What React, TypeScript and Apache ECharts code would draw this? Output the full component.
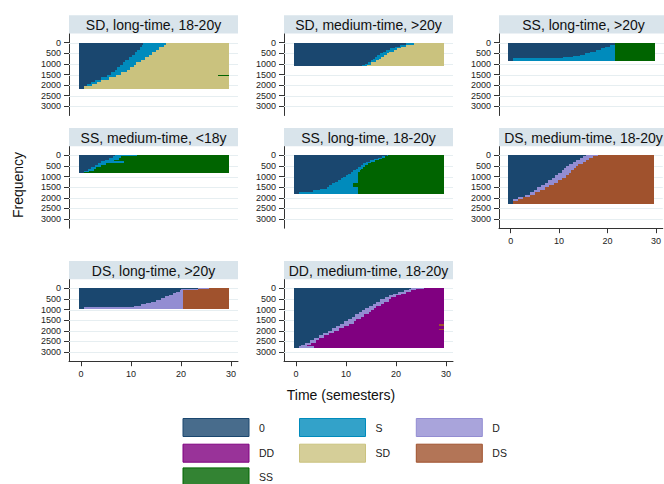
import React, { useEffect, useRef } from 'react';
import * as echarts from 'echarts';

const FONT = '"Liberation Sans", Arial, Helvetica, sans-serif';

// ---------------- data ----------------
const stateNames = ['0', 'S', 'D', 'DD', 'SD', 'DS', 'SS'];
const stateColors = ['#1a476f', '#008bbc', '#938dd2', '#800080', '#cac27e', '#a0522d', '#006400'];

const yTicks = [0, 500, 1000, 1500, 2000, 2500, 3000];
const xTicks = [0, 10, 20, 30];
const firstPeriod = 0;
const lastPeriod = 29;

const panelTitles = [
  'SD, long-time, 18-20y',
  'SD, medium-time, >20y',
  'SS, long-time, >20y',
  'SS, medium-time, <18y',
  'SS, long-time, 18-20y',
  'DS, medium-time, 18-20y',
  'DS, long-time, >20y',
  'DD, medium-time, 18-20y',
];
const panelMidState = ['S', 'S', 'S', 'S', 'S', 'D', 'D', 'D'];
const panelFinalState = ['SD', 'SD', 'SS', 'SS', 'SS', 'DS', 'DS', 'DD'];
const panelTotals = [2160, 1100, 850, 845, 1820, 2290, 980, 2820];

// rows: [frequency where block starts, semester where state 0 ends, semester where middle state ends]
const sdLongAdultRows = [
  [0, 12.4, 25.2], [40, 12.4, 17], [120, 12.2, 16.5], [220, 11.8, 15.5], [330, 11.2, 15],
  [440, 10.8, 14.2], [560, 10.2, 13.5], [680, 9.6, 12.8], [800, 8.8, 12], [920, 8.4, 11],
  [1040, 7.8, 10.5], [1160, 7.2, 9.8], [1280, 6.8, 9.2], [1400, 6, 8], [1520, 5.2, 7],
  [1640, 4, 5.5], [1740, 2.8, 4], [1840, 2, 3.2], [1930, 1.2, 2.2], [2040, 0.5, 0.5],
];
const sdMediumOldRows = [
  [0, 23.2, 25.2], [40, 22, 23.5], [110, 20.8, 22], [190, 19.8, 21], [270, 18.8, 20.2],
  [350, 18, 19.5], [430, 17.3, 18.5], [510, 16.8, 18.2], [590, 16.2, 17.5], [670, 15.7, 17],
  [750, 15.3, 16.5], [830, 14.9, 16], [910, 14.3, 15], [990, 13.8, 15], [1050, 13.2, 14.2],
];
const ssLongOldRows = [
  [0, 25.5, 26.5], [35, 21.3, 21.3], [110, 20.3, 21.3], [190, 19.3, 21.3], [270, 18.5, 21.3],
  [350, 17.5, 21.3], [430, 16.3, 21.3], [510, 15.2, 21.3], [580, 14.2, 21.3], [640, 12.8, 21.3],
  [690, 10.8, 21.3], [740, 0.5, 21.3],
];
const ssMediumYoungRows = [
  [0, 6.8, 11.2], [40, 6.3, 8], [120, 5.5, 7.5], [200, 4.8, 6.5], [290, 4, 8.5],
  [360, 3.4, 5], [450, 2.8, 4], [540, 2, 3], [630, 1.3, 2.5], [720, 0.5, 1.5], [790, 0.5, 0.5],
];
const ssLongAdultRows = [
  [0, 18.1, 18.4], [50, 17.2, 17.8], [110, 16.4, 17.2], [170, 15.6, 16.5], [230, 14.8, 15.8],
  [300, 14, 15], [380, 13.4, 14.4], [460, 12.9, 13.8], [540, 12.4, 13.4], [620, 11.9, 13],
  [700, 11.4, 12.8], [780, 10.9, 12.4], [860, 10.4, 12.4], [940, 9.9, 12.4], [1010, 9.4, 12.4],
  [1090, 8.9, 12.4], [1170, 8.4, 12.4], [1250, 7.7, 12.4], [1320, 7.1, 11.4], [1400, 6.6, 11.4],
  [1480, 6.1, 12.4], [1590, 4.8, 12.4], [1650, 3.4, 12.4], [1715, 0.5, 12.4],
];
const dsMediumAdultRows = [
  [0, 15.5, 18], [40, 15, 17], [110, 14.4, 16.2], [200, 13.5, 15.5], [300, 12.8, 15],
  [400, 12, 14], [500, 11.5, 13.5], [600, 11, 13], [700, 10.5, 12.5], [820, 9.8, 12],
  [940, 9.2, 11.5], [1060, 8.5, 10.5], [1170, 7.8, 9.8], [1280, 7, 9], [1390, 6.2, 8],
  [1500, 5.5, 7], [1620, 4.8, 6], [1740, 4, 5], [1850, 3, 4], [1950, 1.5, 2.5],
  [2060, 0.5, 1.5], [2150, 0.5, 0.5],
];
const dsLongOldRows = [
  [0, 23.3, 25.5], [25, 20, 23.3], [70, 19.8, 20.4], [150, 19, 20.4], [220, 18.3, 20.4],
  [300, 17.5, 20.4], [380, 16.8, 20.4], [460, 16, 20.4], [540, 15, 20.4], [620, 14, 20.4],
  [690, 13, 20.4], [760, 12, 20.4], [820, 10.5, 20.4], [870, 0.5, 20.4],
];
const ddMediumAdultRows = [
  [0, 23, 25.5], [40, 22.5, 24], [100, 21.5, 23], [170, 20.3, 22], [250, 19.3, 21],
  [330, 18.5, 20], [420, 17.7, 19], [520, 16.8, 18.5], [620, 16, 17.5], [720, 15.3, 17],
  [820, 14.5, 16], [920, 13.8, 15.5], [1020, 13.2, 15], [1120, 12.5, 14.5], [1230, 11.8, 13.5],
  [1340, 11.2, 13], [1450, 10.3, 12], [1560, 9.5, 11.5], [1670, 8.7, 10.5], [1780, 8, 9.5],
  [1890, 7.2, 8.5], [2000, 6.3, 7.5], [2110, 5.4, 6.5], [2220, 4.5, 5.5], [2330, 3.6, 4.5],
  [2440, 2.8, 4], [2550, 1.8, 3], [2650, 1, 2.2], [2720, 0.5, 3.5],
];

const panelRows = [
  sdLongAdultRows, sdMediumOldRows, ssLongOldRows, ssMediumYoungRows,
  ssLongAdultRows, dsMediumAdultRows, dsLongOldRows, ddMediumAdultRows,
];

// [panel, freq from, freq to, semester from, semester to, state]
const extraSpells: [number, number, number, number, number, string][] = [
  [0, 1520, 1580, 27.3, 29.5, 'SS'],
  [7, 1690, 1750, 28.5, 29.5, 'DS'],
  [7, 1900, 1960, 28.5, 29.5, 'DS'],
];

const legendGroups = [['0', 'DD'], ['S', 'SD'], ['D', 'DS'], ['SS']];

// ---------------- layout ----------------
const colLeft = [69, 284, 499];
const rowTop = [33.5, 146.2, 279.2];
const gridW = 169;
const gridH = 82;
const titleH = 18.3;
const panelCell = [[0, 0], [0, 1], [0, 2], [1, 0], [1, 1], [1, 2], [2, 0], [2, 1]];
const panelShowX = [false, false, false, false, false, true, true, true];
const legendPos = [[182.5, 418], [299, 418], [415.8, 418], [182.5, 467.4]];

const colorOf = (s: string) => stateColors[stateNames.indexOf(s)];
const blend = (hex: string, a: number) => {
  const n = parseInt(hex.slice(1), 16);
  const ch = [(n >> 16) & 255, (n >> 8) & 255, n & 255].map((v) => Math.round(v * a + 255 * (1 - a)));
  return '#' + ch.map((v) => v.toString(16).padStart(2, '0')).join('');
};

function buildOption() {
  const grid: any[] = [];
  const xAxis: any[] = [];
  const yAxis: any[] = [];
  const series: any[] = [];
  const graphics: any[] = [];

  panelTitles.forEach((title, i) => {
    const [r, c] = panelCell[i];
    const left = colLeft[c];
    const top = rowTop[r];
    grid.push({ left, top, width: gridW, height: gridH });
    xAxis.push({
      gridIndex: i,
      type: 'value',
      min: -2.4,
      max: 31.4,
      show: panelShowX[i],
      axisLine: { show: true, onZero: false, lineStyle: { color: '#333', width: 1 } },
      axisTick: { show: true, length: 5, customValues: xTicks, lineStyle: { color: '#333' } },
      axisLabel: {
        show: true, customValues: xTicks, fontSize: 9, color: '#222', fontFamily: FONT, margin: 8,
        formatter: (v: number) => String(v),
      },
      splitLine: { show: false },
    });
    yAxis.push({
      gridIndex: i,
      type: 'value',
      inverse: true,
      min: -430,
      max: 3430,
      axisLine: { show: true, onZero: false, lineStyle: { color: '#333', width: 1 } },
      axisTick: { show: true, length: 5, customValues: yTicks, lineStyle: { color: '#333' } },
      axisLabel: {
        show: true, customValues: yTicks, fontSize: 9, color: '#222', fontFamily: FONT, margin: 8,
        formatter: (v: number) => String(v),
      },
      splitLine: { show: false },
    });

    // grid lines
    series.push({
      type: 'custom',
      xAxisIndex: i,
      yAxisIndex: i,
      silent: true,
      z: 1,
      data: yTicks.map((v) => [0, v]),
      encode: { x: 0, y: 1 },
      renderItem: (params: any, api: any) => {
        const cs = params.coordSys;
        const y = Math.round(api.coord([0, api.value(1)])[1]) + 0.5;
        return {
          type: 'line',
          shape: { x1: cs.x, y1: y, x2: cs.x + cs.width, y2: y },
          style: { stroke: '#e6eef1', lineWidth: 1 },
        };
      },
    });

    // sequence blocks
    const rows = panelRows[i];
    const blocks = rows.map((row, k) => [
      row[0],
      k + 1 < rows.length ? rows[k + 1][0] : panelTotals[i],
      row[1],
      row[2],
    ]);
    const c0 = colorOf('0');
    const cm = colorOf(panelMidState[i]);
    const cf = colorOf(panelFinalState[i]);
    series.push({
      type: 'custom',
      name: title,
      xAxisIndex: i,
      yAxisIndex: i,
      silent: true,
      z: 3,
      data: blocks,
      encode: { x: [2, 3], y: [0, 1] },
      renderItem: (params: any, api: any) => {
        const f0 = api.value(0);
        const f1 = api.value(1);
        const t1 = api.value(2);
        const t2 = api.value(3);
        const yT = Math.round(api.coord([0, f0])[1]);
        const yB = Math.round(api.coord([0, f1])[1]);
        const xa = Math.round(api.coord([firstPeriod - 0.5, 0])[0]);
        const xb = Math.round(api.coord([t1, 0])[0]);
        const xc = Math.round(api.coord([t2, 0])[0]);
        const xd = Math.round(api.coord([lastPeriod + 0.5, 0])[0]);
        const parts: [number, number, string][] = [
          [xa, xb, c0],
          [xb, xc, cm],
          [xc, xd, cf],
        ];
        return {
          type: 'group',
          children: parts
            .filter((p) => p[1] - p[0] >= 1 && yB - yT >= 1)
            .map((p) => ({
              type: 'rect',
              shape: { x: p[0], y: yT, width: p[1] - p[0], height: yB - yT },
              style: { fill: p[2] },
            })),
        };
      },
    });

    const extras = extraSpells.filter((e) => e[0] === i);
    if (extras.length) {
      series.push({
        type: 'custom',
        xAxisIndex: i,
        yAxisIndex: i,
        silent: true,
        z: 4,
        data: extras.map((e) => [e[1], e[2], e[3], e[4], stateNames.indexOf(e[5])]),
        encode: { x: [2, 3], y: [0, 1] },
        renderItem: (params: any, api: any) => {
          const p0 = api.coord([api.value(2), api.value(0)]).map(Math.round);
          const p1 = api.coord([api.value(3), api.value(1)]).map(Math.round);
          return {
            type: 'rect',
            shape: { x: p0[0], y: p0[1], width: p1[0] - p0[0], height: Math.max(1, p1[1] - p0[1]) },
            style: { fill: stateColors[api.value(4)] },
          };
        },
      });
    }

    // title band
    graphics.push({
      type: 'rect',
      z: 10,
      shape: { x: left, y: top - titleH, width: gridW, height: titleH },
      style: { fill: '#d9e4eb' },
    });
    graphics.push({
      type: 'text',
      z: 11,
      x: left + gridW / 2,
      y: top - titleH / 2 + 0.5,
      style: {
        text: title,
        fontSize: 14,
        fontFamily: FONT,
        fill: '#111',
        align: 'center',
        verticalAlign: 'middle',
      },
    });
  });

  // legend dummy series
  stateNames.forEach((n, i) => {
    series.push({
      type: 'custom',
      name: n,
      xAxisIndex: 0,
      yAxisIndex: 0,
      data: [],
      renderItem: () => null,
      itemStyle: { color: stateColors[i] },
    });
  });

  graphics.push({
    type: 'text',
    x: 18,
    y: 185,
    rotation: Math.PI / 2,
    style: { text: 'Frequency', fontSize: 14, fontFamily: FONT, fill: '#111', align: 'center', verticalAlign: 'middle' },
  });
  graphics.push({
    type: 'text',
    x: 341,
    y: 395,
    style: { text: 'Time (semesters)', fontSize: 14, fontFamily: FONT, fill: '#111', align: 'center', verticalAlign: 'middle' },
  });

  const legend = legendGroups.map((names, c) => ({
    orient: 'vertical',
    left: legendPos[c][0],
    top: legendPos[c][1],
    height: 120,
    itemWidth: 66,
    itemHeight: 18,
    itemGap: 6.7,
    padding: 0,
    icon: 'rect',
    selectedMode: false,
    data: names.map((n) => ({
      name: n,
      itemStyle: { color: blend(colorOf(n), 0.8), borderColor: colorOf(n), borderWidth: 1 },
    })),
    textStyle: { fontSize: 10.5, color: '#222', fontFamily: FONT, padding: [0, 0, 0, 5] },
  }));

  return {
    animation: false,
    backgroundColor: '#ffffff',
    textStyle: { fontFamily: FONT },
    grid,
    xAxis,
    yAxis,
    series,
    legend,
    graphic: { elements: graphics },
  };
}

export default function App() {
  const ref = useRef<HTMLDivElement>(null);
  useEffect(() => {
    if (!ref.current) return;
    const chart = echarts.init(ref.current, null, { renderer: 'svg' });
    chart.setOption(buildOption() as any);
    return () => chart.dispose();
  }, []);
  return (
    <div
      ref={ref}
      style={{ position: 'fixed', left: 0, top: 0, width: 664, height: 484, background: '#fff' }}
    />
  );
}
